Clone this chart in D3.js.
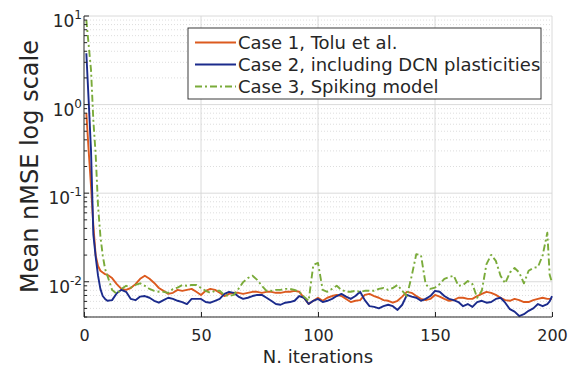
<!DOCTYPE html>
<html>
<head>
<meta charset="utf-8">
<script src="https://cdn.jsdelivr.net/npm/d3@7/dist/d3.min.js"></script>
<style>
  html, body { margin: 0; padding: 0; background: #fff; }
  svg { display: block; font-family: "DejaVu Sans", sans-serif; }
</style>
</head>
<body>
<svg id="chart" width="584" height="371"></svg>
<script>
const iterations = [1,2,3,4,5,6,7,8,9,10,
  12,14,16,18,20,22,24,26,28,30,32,34,36,38,40,42,44,46,48,50,
  52,54,56,58,60,62,64,66,68,70,72,74,76,78,80,82,84,86,88,90,
  92,94,96,98,100,102,104,106,108,110,112,114,116,118,120,122,124,126,128,130,
  132,134,136,138,140,142,144,146,148,150,152,154,156,158,160,162,164,166,168,170,
  172,174,176,178,180,182,184,186,188,190,192,194,196,198,199,200];

const case1 = [0.8,0.30,0.12,0.043,0.0198,0.0151,0.0133,0.0127,0.0122,0.012,
  0.011,0.0094,0.0083,0.0081,0.0085,0.0094,0.0108,0.0117,0.0108,0.0097,0.0085,0.0079,0.0073,0.0075,0.0081,0.0079,0.0081,0.0083,0.0077,0.0071,
  0.0079,0.0083,0.0081,0.0075,0.0069,0.0073,0.0075,0.0075,0.0073,0.0075,0.0077,0.0077,0.0075,0.0077,0.0077,0.0075,0.0075,0.0077,0.0077,0.0079,
  0.0077,0.0066,0.0056,0.0061,0.0066,0.0061,0.0066,0.0069,0.0071,0.0069,0.0064,0.0059,0.0061,0.0062,0.0071,0.0073,0.0069,0.0066,0.0062,0.0061,
  0.0058,0.0061,0.0068,0.0077,0.0075,0.0069,0.0064,0.0062,0.0064,0.0071,0.0068,0.0064,0.0061,0.0062,0.0066,0.0066,0.0064,0.0064,0.0069,0.0073,
  0.0077,0.0075,0.0071,0.0066,0.0062,0.0061,0.0064,0.0062,0.0059,0.0059,0.0062,0.0064,0.0066,0.0064,0.0064,0.0064];

const case2 = [3.8,1.1,0.30,0.034,0.019,0.0117,0.0083,0.0069,0.0064,0.0061,
  0.0062,0.0074,0.0081,0.0077,0.0064,0.0062,0.0068,0.0069,0.0066,0.0061,0.0058,0.0062,0.0066,0.0064,0.0061,0.0059,0.0056,0.0064,0.0064,0.0064,
  0.0059,0.0058,0.0061,0.0064,0.0073,0.0077,0.0075,0.0068,0.0064,0.0066,0.0069,0.0071,0.0071,0.0066,0.0061,0.0056,0.0055,0.0058,0.0059,0.0061,
  0.0069,0.0066,0.0056,0.0061,0.0064,0.0059,0.0061,0.0064,0.0069,0.0073,0.0068,0.0064,0.0069,0.0077,0.0062,0.0053,0.0052,0.0050,0.0053,0.0055,
  0.0053,0.0048,0.0055,0.0071,0.0068,0.0066,0.0061,0.0064,0.0069,0.0079,0.0077,0.0069,0.0064,0.0062,0.0059,0.0053,0.0056,0.0052,0.0059,0.0061,
  0.0058,0.0059,0.0064,0.0066,0.0058,0.0049,0.0046,0.0041,0.0043,0.0047,0.0050,0.0056,0.0053,0.0056,0.0060,0.0069];

const case3 = [9.0,4.7,2.45,0.66,0.27,0.072,0.033,0.0198,0.014,0.0117,
  0.0081,0.0073,0.0083,0.009,0.0086,0.0092,0.0096,0.009,0.0083,0.0079,0.0077,0.0077,0.0075,0.0083,0.0086,0.0092,0.009,0.0092,0.0092,0.0085,
  0.0079,0.0075,0.0079,0.0079,0.0071,0.0069,0.0071,0.0083,0.0099,0.011,0.0117,0.0105,0.009,0.0079,0.0079,0.0081,0.0081,0.0083,0.0083,0.0081,
  0.0077,0.0068,0.0061,0.0155,0.0163,0.0081,0.0077,0.0083,0.009,0.0081,0.0077,0.0077,0.0079,0.0077,0.0079,0.0079,0.0079,0.0083,0.0085,0.0081,
  0.0085,0.0092,0.0079,0.0069,0.0115,0.0205,0.0200,0.0094,0.0083,0.0086,0.0094,0.0108,0.0113,0.0117,0.009,0.0092,0.0102,0.0094,0.0066,0.0079,
  0.0158,0.0201,0.0172,0.0117,0.0096,0.0127,0.0143,0.0127,0.0096,0.0133,0.0143,0.0147,0.0198,0.0358,0.012,0.0098];

const xTicks = [0, 50, 100, 150, 200];
const yMajor = [0.01, 0.1, 1, 10];
const yExponents = ["-2", "-1", "0", "1"];
const yMinor = [0.004,0.005,0.006,0.007,0.008,0.009,
  0.02,0.03,0.04,0.05,0.06,0.07,0.08,0.09,
  0.2,0.3,0.4,0.5,0.6,0.7,0.8,0.9,
  2,3,4,5,6,7,8,9];
const seriesNames = ["Case 1, Tolu et al.", "Case 2, including DCN plasticities", "Case 3, Spiking model"];
const seriesColors = ["#dc5a1f", "#1b2b8c", "#7aab3a"];
const seriesDash = [null, null, "7,3,2,3"];
const seriesValues = [case1, case2, case3];

const svg = d3.select("#chart");
const L = 84, R = 552, T = 16, B = 317;
const x = d3.scaleLinear().domain([0, 200]).range([L, R]);
const y = d3.scaleLog().domain([0.004, 10]).range([B, T]);

// minor grid
svg.append("g").selectAll("line").data(yMinor).join("line")
  .attr("x1", L).attr("x2", R)
  .attr("y1", d => y(d)).attr("y2", d => y(d))
  .attr("stroke", "#d4d4d4").attr("stroke-width", 0.8)
  .attr("stroke-dasharray", "1,2");
// major grid
svg.append("g").selectAll("line").data(yMajor).join("line")
  .attr("x1", L).attr("x2", R)
  .attr("y1", d => y(d)).attr("y2", d => y(d))
  .attr("stroke", "#d6d6d6").attr("stroke-width", 0.9);
svg.append("g").selectAll("line").data(xTicks.slice(1)).join("line")
  .attr("x1", d => x(d)).attr("x2", d => x(d))
  .attr("y1", T).attr("y2", B)
  .attr("stroke", "#d6d6d6").attr("stroke-width", 0.9);

// series
const line = d3.line()
  .x((d, i) => x(iterations[i]))
  .y(d => y(d));
seriesValues.forEach((vals, k) => {
  svg.append("path")
    .datum(vals)
    .attr("d", line)
    .attr("fill", "none")
    .attr("stroke", seriesColors[k])
    .attr("stroke-width", 1.9)
    .attr("stroke-linejoin", "round")
    .attr("stroke-dasharray", seriesDash[k]);
});

// x axis
const xAxis = d3.axisBottom(x).tickValues(xTicks).tickSize(-5).tickPadding(13).tickFormat(d3.format("d"));
const gx = svg.append("g").attr("transform", `translate(0,${B})`).call(xAxis);
gx.select(".domain").attr("stroke", "#262626").attr("d", `M${L},0H${R}`);
gx.selectAll(".tick line").attr("stroke", "#262626");
gx.selectAll(".tick text").attr("fill", "#262626").style("font-size", "16px").style("font-family", "DejaVu Sans");

// y axis
svg.append("line").attr("x1", L).attr("x2", L).attr("y1", T).attr("y2", B).attr("stroke", "#262626");
svg.append("g").selectAll("line").data(yMajor).join("line")
  .attr("x1", L).attr("x2", L + 5).attr("y1", d => y(d)).attr("y2", d => y(d)).attr("stroke", "#262626");
svg.append("g").selectAll("line").data(yMinor).join("line")
  .attr("x1", L).attr("x2", L + 3).attr("y1", d => y(d)).attr("y2", d => y(d)).attr("stroke", "#262626");
const yl = svg.append("g").selectAll("text").data(yMajor).join("text")
  .attr("x", 82).attr("y", d => y(d) + 11)
  .attr("text-anchor", "end").attr("fill", "#262626")
  .style("font-size", "17px");
yl.append("tspan").text("10");
yl.append("tspan").attr("dy", -8).style("font-size", "12px").text((d, i) => yExponents[i]);

// axis labels
svg.append("text").attr("x", (L + R) / 2).attr("y", 363).attr("text-anchor", "middle")
  .attr("fill", "#262626").style("font-size", "18px").text("N. iterations");
svg.append("text").attr("transform", `translate(38,${(T + B) / 2}) rotate(-90)`)
  .attr("text-anchor", "middle").attr("fill", "#262626").style("font-size", "24px").text("Mean nMSE log scale");

// legend
const lg = svg.append("g");
lg.append("rect").attr("x", 188).attr("y", 28).attr("width", 353).attr("height", 71)
  .attr("fill", "#fff").attr("stroke", "#262626").attr("stroke-width", 0.9);
seriesNames.forEach((name, k) => {
  const cy = 42.5 + k * 22;
  lg.append("line").attr("x1", 195).attr("x2", 236).attr("y1", cy).attr("y2", cy)
    .attr("stroke", seriesColors[k]).attr("stroke-width", 1.8)
    .attr("stroke-dasharray", seriesDash[k]);
  lg.append("text").attr("x", 238).attr("y", cy + 6.5).attr("fill", "#262626")
    .style("font-size", "18px").text(name);
});
</script>
</body>
</html>
